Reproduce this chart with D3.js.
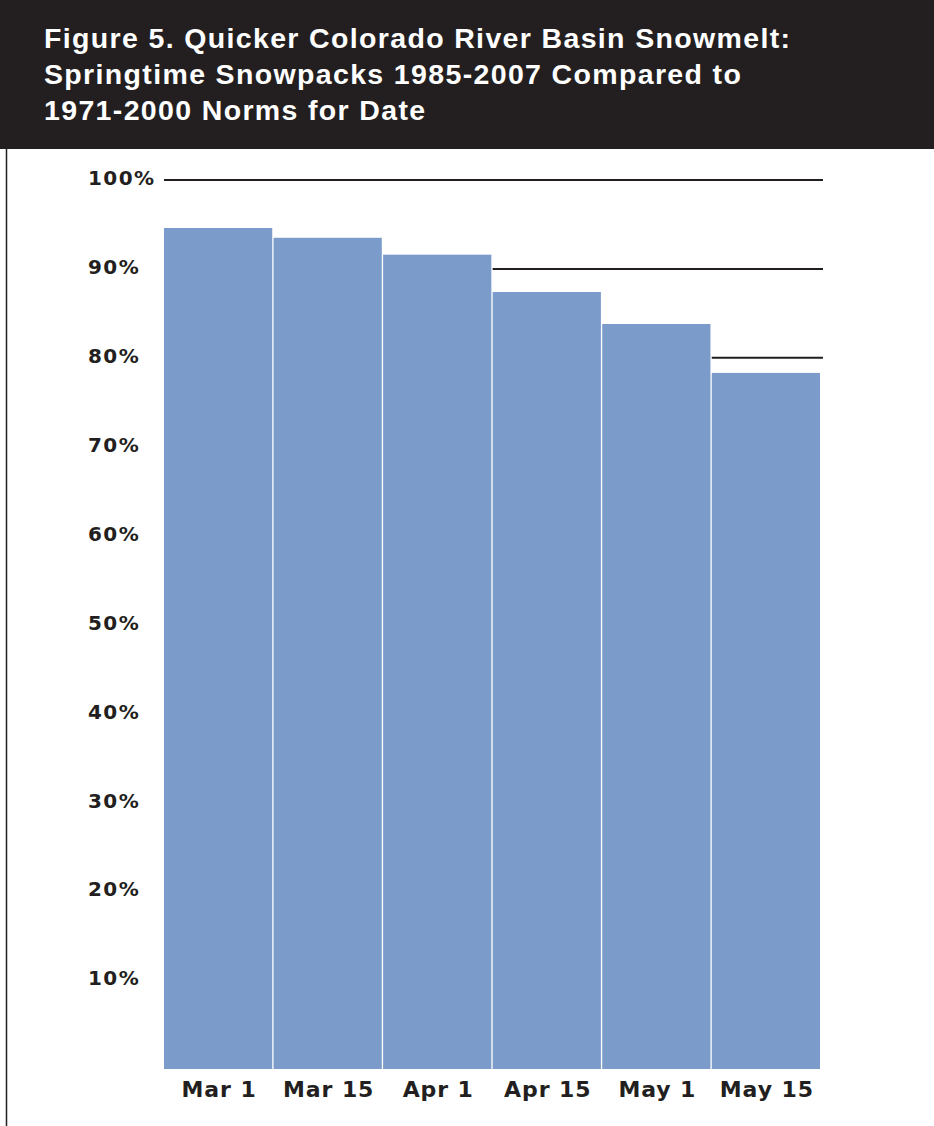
<!DOCTYPE html>
<html>
<head>
<meta charset="utf-8">
<script src="https://cdn.jsdelivr.net/npm/d3@7"></script>
<style>
  body { margin: 0; background: #fff; }
  svg { display: block; }
  .title { font-family: "Liberation Sans", Arial, sans-serif; font-weight: bold; font-size: 28.5px; fill: #fff; letter-spacing: 1.35px; }
  .y-label { font-family: "DejaVu Sans", sans-serif; font-weight: bold; font-size: 20px; fill: #231f20; letter-spacing: 1.4px; }
  .x-label { font-family: "DejaVu Sans", sans-serif; font-weight: bold; font-size: 22px; fill: #231f20; letter-spacing: 0.9px; }
</style>
</head>
<body>
<div id="chart-container"><svg></svg></div>
<script>
const titleLines = [
  "Figure 5. Quicker Colorado River Basin Snowmelt:",
  "Springtime Snowpacks 1985-2007 Compared to",
  "1971-2000 Norms for Date"
];
const dates = ["Mar 1", "Mar 15", "Apr 1", "Apr 15", "May 1", "May 15"];
const percents = [94.6, 93.5, 91.6, 87.4, 83.8, 78.3];
const yTicks = [10, 20, 30, 40, 50, 60, 70, 80, 90, 100];

const chartSize = {width: 934, height: 1126};
const plot = {left: 164, right: 820, top: 180, bottom: 1069};
const ink = "#231f20";

const svg = d3.select("#chart-container svg")
  .attr("width", chartSize.width)
  .attr("height", chartSize.height);

// header band
svg.append("rect")
  .attr("x", 0).attr("y", 0)
  .attr("width", chartSize.width).attr("height", 149)
  .attr("fill", ink);

svg.append("line")
  .attr("x1", 6.5).attr("x2", 6.5)
  .attr("y1", 149).attr("y2", chartSize.height)
  .attr("stroke", ink).attr("stroke-width", 1.5);

svg.append("g").selectAll("text")
  .data(titleLines)
  .join("text")
  .attr("class", "title")
  .attr("x", 44)
  .attr("y", (d, i) => 47.5 + i * 36.3)
  .text(d => d);

const x = d3.scaleBand()
  .domain(dates)
  .range([plot.left, plot.right])
  .paddingInner(0.012);

const y = d3.scaleLinear()
  .domain([0, 100])
  .range([plot.bottom, plot.top]);

// a gridline only shows to the right of the last bar that rises above it
const gridStart = t => {
  let last = -1;
  percents.forEach((p, i) => { if (p >= t) last = i; });
  return last < 0 ? plot.left : x(dates[last]) + x.bandwidth() + x.step() - x.bandwidth();
};

svg.append("g").selectAll("line")
  .data(yTicks.filter(t => percents[percents.length - 1] < t))
  .join("line")
  .attr("x1", d => gridStart(d))
  .attr("x2", plot.right + 3)
  .attr("y1", d => y(d))
  .attr("y2", d => y(d))
  .attr("stroke", ink)
  .attr("stroke-width", 2);

svg.append("g").selectAll("rect")
  .data(percents)
  .join("rect")
  .attr("x", (d, i) => x(dates[i]))
  .attr("y", d => y(d))
  .attr("width", x.bandwidth())
  .attr("height", d => y(0) - y(d))
  .attr("fill", "#7b9bcb");

svg.append("g").selectAll("text")
  .data(yTicks)
  .join("text")
  .attr("class", "y-label")
  .attr("x", 88)
  .attr("y", d => y(d) - 2)
  .attr("dy", "0.36em")
  .text(d => d + "%");

svg.append("g").selectAll("text")
  .data(dates)
  .join("text")
  .attr("class", "x-label")
  .attr("x", d => x(d) + x.bandwidth() / 2 + 1)
  .attr("y", 1097)
  .attr("text-anchor", "middle")
  .text(d => d);
</script>
</body>
</html>
